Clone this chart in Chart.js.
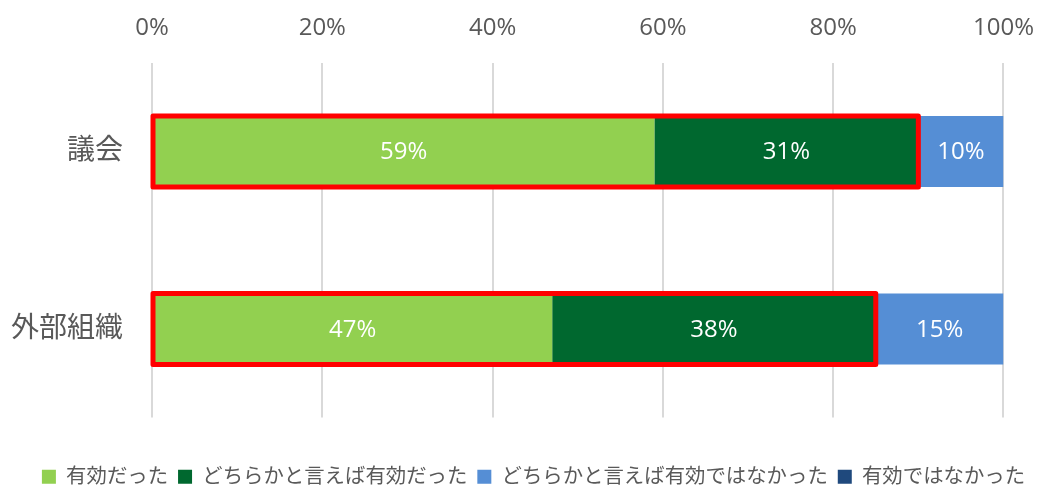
<!DOCTYPE html>
<html>
<head>
<meta charset="utf-8">
<script src="https://cdn.jsdelivr.net/npm/chart.js@4"></script>
<style>
  html, body { margin:0; padding:0; background:#fff; }
  #wrap { width:1040px; height:489px; }
</style>
</head>
<body>
<div id="wrap"><canvas id="chart"></canvas></div>
<script>
const categories = ["議会", "外部組織"];
const seriesNames = ["有効だった", "どちらかと言えば有効だった", "どちらかと言えば有効ではなかった", "有効ではなかった"];
const effective       = [59, 47];
const ratherEffective = [31, 38];
const ratherNot       = [10, 15];
const notEffective    = [0, 0];
const colors = ["#92D050", "#00682F", "#558ED5", "#1F497D"];

const FONT = "'Open Sans','Noto Sans CJK JP',sans-serif";
const TEXT = "#595959";

// white % labels in the middle of each segment
const valueLabels = {
  id: "valueLabels",
  afterDatasetsDraw(chart) {
    const ctx = chart.ctx;
    ctx.save();
    ctx.font = `24px ${FONT}`;
    ctx.fillStyle = "#fff";
    ctx.textAlign = "center";
    ctx.textBaseline = "middle";
    chart.data.datasets.forEach((ds, di) => {
      chart.getDatasetMeta(di).data.forEach((bar, i) => {
        const v = ds.data[i];
        if (!v) return;
        ctx.fillText(v + "%", (bar.x + bar.base) / 2, bar.y + 1);
      });
    });
    ctx.restore();
  }
};

// red box round the two "effective" segments
const highlight = {
  id: "highlight",
  afterDatasetsDraw(chart) {
    const ctx = chart.ctx;
    const m0 = chart.getDatasetMeta(0), m1 = chart.getDatasetMeta(1);
    ctx.save();
    ctx.strokeStyle = "#FF0000";
    ctx.lineWidth = 5;
    ctx.lineJoin = "round";
    m0.data.forEach((bar, i) => {
      const left = bar.base;
      const right = m1.data[i].x;
      const top = bar.y - bar.height / 2;
      ctx.strokeRect(left, top, right - left, bar.height);
    });
    ctx.restore();
  }
};

new Chart(document.getElementById("chart"), {
  type: "bar",
  data: {
    labels: categories,
    datasets: [effective, ratherEffective, ratherNot, notEffective].map((d, i) => ({
      label: seriesNames[i],
      data: d,
      backgroundColor: colors[i],
      borderWidth: 0,
      barPercentage: 0.8,
      categoryPercentage: 0.5
    }))
  },
  options: {
    indexAxis: "y",
    responsive: true,
    maintainAspectRatio: false,
    animation: false,
    layout: { padding: { left: -10, right: -37, top: 8, bottom: -8 } },
    plugins: {
      legend: {
        position: "bottom",
        title: { display: true, text: " ", font: { size: 10 }, padding: { top: 27, bottom: 0 } },
        labels: {
          color: TEXT,
          font: { family: FONT, size: 20.4 },
          boxWidth: 14, boxHeight: 14,
          padding: 10
        }
      },
      tooltip: { enabled: false }
    },
    scales: {
      x: {
        position: "top",
        stacked: true,
        min: 0, max: 100,
        ticks: { stepSize: 20, callback: v => v + "%", color: TEXT, font: { family: FONT, size: 24 }, padding: 6 },
        grid: { color: "#D9D9D9", lineWidth: 2, drawTicks: true, tickLength: 14, tickColor: "rgba(0,0,0,0)" },
        border: { display: false }
      },
      y: {
        stacked: true,
        ticks: { color: TEXT, font: { family: FONT, size: 28 }, padding: 21 },
        grid: { display: false },
        border: { display: false }
      }
    }
  },
  plugins: [valueLabels, highlight]
});
</script>
</body>
</html>
